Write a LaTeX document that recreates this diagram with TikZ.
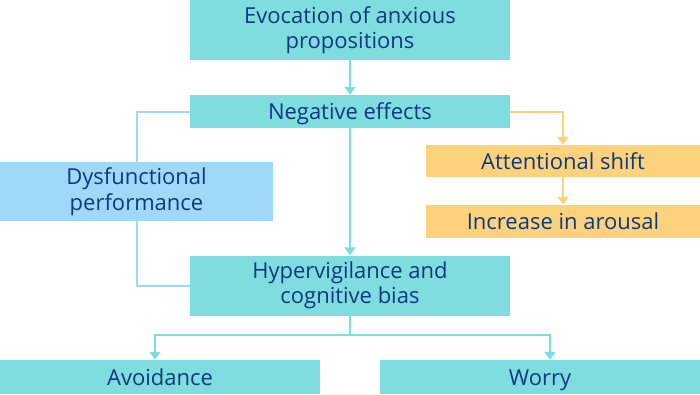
\documentclass[tikz,border=0pt]{standalone}
\usepackage{fontspec}
\setmainfont{Open Sans}
\usetikzlibrary{arrows.meta, positioning}
\definecolor{tealbox}{HTML}{7FDDE0}
\definecolor{bluebox}{HTML}{A0D8F8}
\definecolor{orangebox}{HTML}{FDD27C}
\definecolor{navytext}{HTML}{0D3A7C}

\begin{document}
\begin{tikzpicture}[x=1pt,y=-1pt,
    box/.style={inner sep=0pt, align=center, text=navytext, font=\fontsize{22}{25.5}\selectfont},
    oneline/.style={text height=19pt, text depth=3pt},
    tealnode/.style={box, fill=tealbox},
    bluenode/.style={box, fill=bluebox},
    orangenode/.style={box, fill=orangebox},
    wire/.style={line width=2pt},
    link/.style={wire, -{Triangle[width=11pt,length=8pt]}}]
    \useasboundingbox (0,0) rectangle (700,394);

    \node[tealnode, minimum width=320pt, minimum height=60pt] (evo) at (350,30) {Evocation of anxious\\propositions};
    \node[tealnode, oneline, minimum width=320pt, minimum height=33pt] (neg) at (350,111.5) {Negative effects};
    \node[bluenode, minimum width=273pt, minimum height=59pt] (dys) at (136.5,191.5) {Dysfunctional\\performance};
    \node[orangenode, oneline, minimum width=274pt, minimum height=32pt] (att) at (563,161) {Attentional shift};
    \node[orangenode, oneline, minimum width=274pt, minimum height=33pt] (aro) at (563,221.5) {Increase in arousal};
    \node[tealnode, minimum width=320pt, minimum height=60pt] (hyp) at (350,285.5) {Hypervigilance and\\cognitive bias};
    \node[tealnode, oneline, minimum width=320pt, minimum height=34pt] (avo) at (160,377) {Avoidance};
    \node[tealnode, oneline, minimum width=320pt, minimum height=34pt] (wor) at (540,377) {Worry};

    \coordinate (split) at (350,335);

    \draw[link, tealbox] (evo) -- (neg);
    \draw[link, tealbox] (neg) -- (hyp);
    \draw[wire, bluebox] (neg.west) -| (dys.north);
    \draw[wire, bluebox] (dys.south) |- (hyp.west);
    \draw[link, orangebox] (neg.east) -| (att.north);
    \draw[link, orangebox] (att) -- (aro);
    \draw[wire, tealbox] (hyp.south) -- (split);
    \draw[link, tealbox] (split) -| ([xshift=-5pt]avo.north);
    \draw[link, tealbox] (split) -| ([xshift=10pt]wor.north);
\end{tikzpicture}
\end{document}
